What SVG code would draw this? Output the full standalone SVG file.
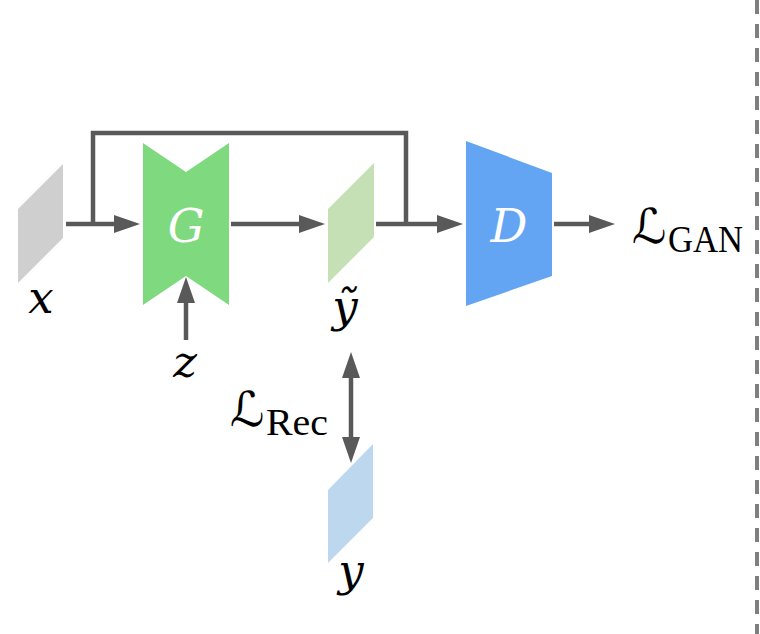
<svg xmlns="http://www.w3.org/2000/svg" width="760" height="634" viewBox="0 0 760 634">
<style>
.conn{fill:none;stroke:#595959;stroke-width:4.5;stroke-linejoin:miter}
.var{font-family:"DejaVu Serif","Liberation Serif",serif;font-style:italic;font-size:45px;fill:#000}
.inner{font-family:"DejaVu Serif","Liberation Serif",serif;font-style:italic;font-size:46px;fill:#fff}
.script{font-family:"DejaVu Sans",sans-serif;font-size:48px;fill:#000}
.sub{font-family:"Liberation Serif","DejaVu Serif",serif;font-size:37px;fill:#000}
</style>
<defs>
<marker id="ah" markerUnits="userSpaceOnUse" markerWidth="26" markerHeight="18" refX="10" refY="9" orient="auto-start-reverse">
<path d="M0,0 L26,9 L0,18 z" fill="#595959"/>
</marker>
</defs>
<rect width="760" height="634" fill="#fff"/>
<line x1="757" y1="0" x2="757" y2="634" stroke="#7f7f7f" stroke-width="4" stroke-dasharray="14 10"/>
<g id="connectors">
<path class="conn" d="M66,224 H124" marker-end="url(#ah)"/>
<path class="conn" d="M93,224 V133 H406 V224"/>
<path class="conn" d="M231,224 H309" marker-end="url(#ah)"/>
<path class="conn" d="M376,224 H447" marker-end="url(#ah)"/>
<path class="conn" d="M554,224 H599" marker-end="url(#ah)"/>
<path class="conn" d="M186,340 V293" marker-end="url(#ah)"/>
<path class="conn" d="M351,368 V447" marker-start="url(#ah)" marker-end="url(#ah)"/>
</g>
<g id="x">
<polygon points="18,209 63,164 63,238 18,283" fill="#d0cfd0"/>
<text class="var" x="41" y="313" text-anchor="middle">x</text>
</g>
<g id="G">
<polygon points="143,143 186,172 229,143 229,305 186,276 143,305" fill="#7fd97f"/>
<text class="inner" x="186" y="242" text-anchor="middle">G</text>
</g>
<g id="z">
<text class="var" x="185" y="377" text-anchor="middle">z</text>
</g>
<g id="ytilde">
<polygon points="328,209 374,163 374,237 328,283" fill="#c5e0b4"/>
<text class="var" x="345" y="322" text-anchor="middle">ỹ</text>
</g>
<g id="D">
<polygon points="466,141 552,173 552,276 466,306" fill="#64a5f3"/>
<text class="inner" x="509" y="242" text-anchor="middle">D</text>
</g>
<g id="LGAN">
<text class="script" x="632" y="243">ℒ<tspan class="sub" x="668" y="252" textLength="75" lengthAdjust="spacingAndGlyphs">GAN</tspan></text>
</g>
<g id="LRec">
<text class="script" x="230" y="426">ℒ<tspan class="sub" x="266" y="435" textLength="62" lengthAdjust="spacingAndGlyphs">Rec</tspan></text>
</g>
<g id="y">
<polygon points="328,490 373,444 373,518 328,563" fill="#bdd7ee"/>
<text class="var" x="351" y="586" text-anchor="middle">y</text>
</g>
</svg>
